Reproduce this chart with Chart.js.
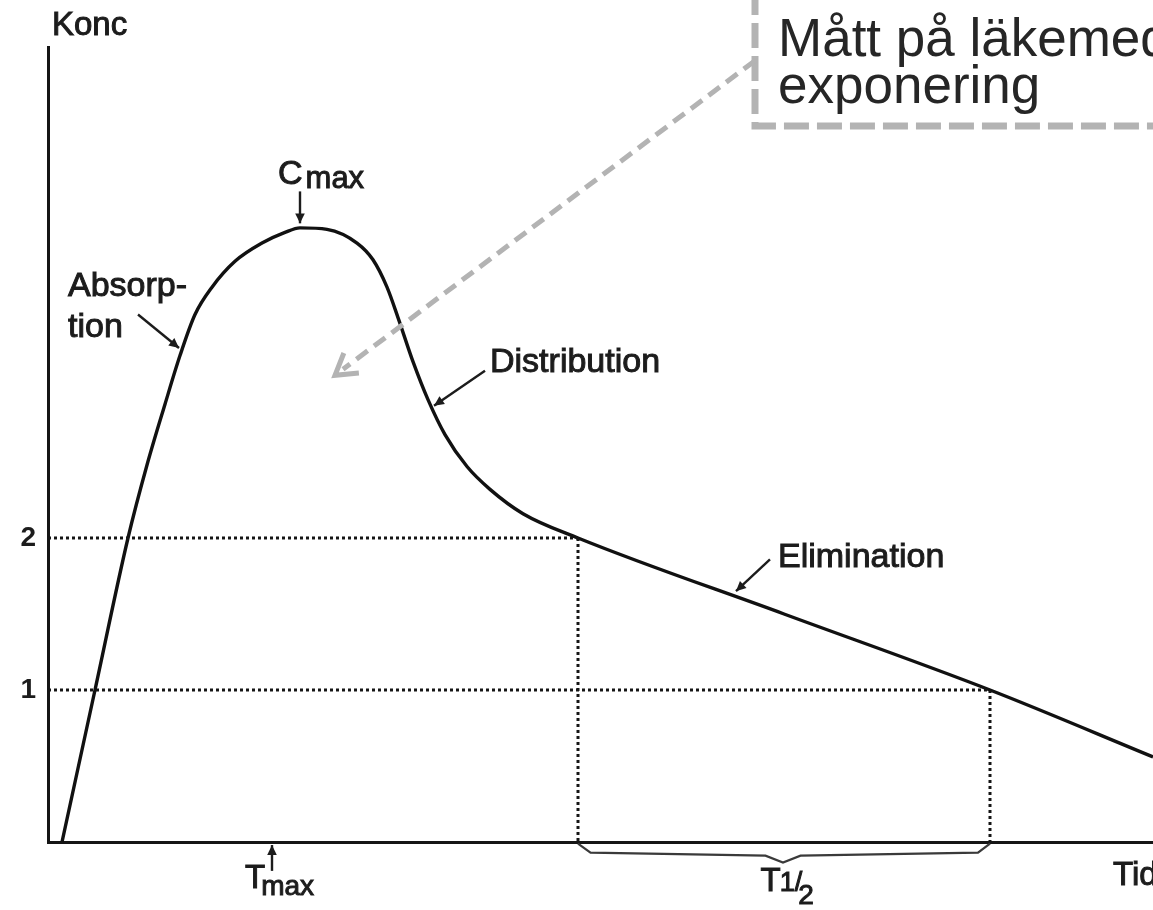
<!DOCTYPE html>
<html>
<head>
    <title>Konc / Tid</title>
    <meta charset="utf-8">
    <script src="https://cdn.jsdelivr.net/npm/chart.js@4.4.1/dist/chart.umd.min.js"></script>
    <style>
        body { margin: 0; background: #fff; }
        #wrap { width: 1153px; height: 910px; }
    </style>
</head>
<body>
<div id="wrap"><canvas id="pk_chart" width="1153" height="910"></canvas></div>
<script>
    // concentration curve (time units arbitrary)
    const curveX = [0.28, 0.94, 1.6, 1.98, 2.34, 2.64, 2.94, 3.28, 3.74, 4.28, 4.74, 5.04, 5.58, 6.18, 6.5, 6.78, 7.0, 7.3, 7.6, 7.94, 8.38, 8.84, 9.5, 10.6, 14.72, 18.84, 22.1];
    const curveY = [0, 1.0, 2.0, 2.48, 2.88, 3.2, 3.47, 3.65, 3.82, 3.94, 4.01, 4.04, 4.03, 3.94, 3.83, 3.65, 3.45, 3.16, 2.91, 2.68, 2.47, 2.32, 2.16, 2.0, 1.5, 1.0, 0.56];

    const yTicks = [1, 2];
    const xMax = 22.1;
    const yMax = 5.23;

    // half-life: concentration 2 at t=10.6, 1 at t=18.84
    const halfStart = 10.6;
    const halfEnd = 18.84;

    // brace under the T1/2 interval
    const braceX = [10.6, 10.85, 14.35, 14.7, 15.05, 18.6, 18.84];
    const braceY = [-0.01, -0.07, -0.09, -0.135, -0.09, -0.07, -0.01];

    function pts(xs, ys) { return xs.map((x, i) => ({x: x, y: ys[i]})); }

    const dotted = {borderColor: '#151515', borderWidth: 3, borderDash: [3, 3], pointRadius: 0, showLine: true, fill: false};

    const datasets = [
        Object.assign({data: [{x: 0, y: 2}, {x: halfStart, y: 2}]}, dotted),
        Object.assign({data: [{x: 0, y: 1}, {x: halfEnd, y: 1}]}, dotted),
        Object.assign({data: [{x: halfStart, y: 2}, {x: halfStart, y: 0}]}, dotted),
        Object.assign({data: [{x: halfEnd, y: 1}, {x: halfEnd, y: 0}]}, dotted),
        {
            data: pts(braceX, braceY),
            borderColor: '#3a3a3a', borderWidth: 2.2, pointRadius: 0, showLine: true, clip: false
        },
        {
            data: pts(curveX, curveY),
            borderColor: '#111', borderWidth: 3.4, pointRadius: 0, showLine: true,
            cubicInterpolationMode: 'monotone'
        }
    ];

    const font = '"Liberation Sans", Arial, Helvetica, sans-serif';

    function text(ctx, s, x, y, size, heavy) {
        ctx.font = size + 'px ' + font;
        ctx.fillText(s, x, y);
        if (heavy) ctx.strokeText(s, x, y);
        return ctx.measureText(s).width;
    }

    function arrow(ctx, x1, y1, x2, y2) {
        ctx.beginPath();
        ctx.moveTo(x1, y1);
        ctx.lineTo(x2, y2);
        ctx.stroke();
        const a = Math.atan2(y2 - y1, x2 - x1);
        const len = 11, w = 0.45;
        ctx.beginPath();
        ctx.moveTo(x2, y2);
        ctx.lineTo(x2 - len * Math.cos(a - w), y2 - len * Math.sin(a - w));
        ctx.lineTo(x2 - len * Math.cos(a + w), y2 - len * Math.sin(a + w));
        ctx.closePath();
        ctx.fill();
    }

    const labels = {
        id: 'labels',
        afterDraw(chart) {
            const ctx = chart.ctx;
            const sx = v => chart.scales.x.getPixelForValue(v);
            const sy = v => chart.scales.y.getPixelForValue(v);
            ctx.save();
            ctx.fillStyle = '#1c1c1c';
            ctx.strokeStyle = '#1c1c1c';
            ctx.lineWidth = 1;
            ctx.textBaseline = 'alphabetic';

            text(ctx, 'Konc', sx(0.08), sy(5.31), 33, true);

            // Cmax
            let w = text(ctx, 'C', sx(4.6), sy(4.33), 34, true);
            text(ctx, 'max', sx(4.6) + w + 3, sy(4.30), 31, true);
            ctx.lineWidth = 2.4;
            arrow(ctx, sx(5.04), sy(4.28), sx(5.04), sy(4.07));
            ctx.lineWidth = 1;

            text(ctx, 'Absorp-', sx(0.4), sy(3.59), 34, true);
            text(ctx, 'tion', sx(0.4), sy(3.32), 34, true);
            text(ctx, 'Distribution', sx(8.84), sy(3.09), 34, true);
            text(ctx, 'Elimination', sx(14.6), sy(1.81), 34, true);

            ctx.lineWidth = 2.4;
            arrow(ctx, sx(1.8), sy(3.47), sx(2.62), sy(3.25));
            arrow(ctx, sx(8.74), sy(3.1), sx(7.72), sy(2.87));
            arrow(ctx, sx(14.44), sy(1.86), sx(13.76), sy(1.65));
            arrow(ctx, sx(4.48), sy(-0.19), sx(4.48), sy(-0.02));
            ctx.lineWidth = 1;

            // x axis marks
            w = text(ctx, 'T', sx(3.94), sy(-0.30), 33, true);
            text(ctx, 'max', sx(3.94) + w - 4, sy(-0.35), 28, true);
            w = text(ctx, 'T', sx(14.25), sy(-0.32), 33, true);
            const w2 = text(ctx, '1/', sx(14.25) + w - 1, sy(-0.32), 27, true);
            text(ctx, '2', sx(14.25) + w + w2 - 5, sy(-0.41), 28, true);
            text(ctx, 'Tid', sx(21.3), sy(-0.28), 33, true);

            // gray callout box and dashed arrow
            ctx.strokeStyle = '#b3b3b3';
            ctx.lineWidth = 7;
            ctx.setLineDash([25, 8]);
            ctx.beginPath();
            ctx.moveTo(sx(14.14), -10);
            ctx.lineTo(sx(14.14), sy(4.71));
            ctx.lineTo(chart.width + 10, sy(4.71));
            ctx.stroke();

            const ax1 = sx(14.14), ay1 = sy(5.14), ax2 = sx(5.74), ay2 = sy(3.07);
            ctx.lineWidth = 5;
            ctx.setLineDash([14, 8]);
            ctx.beginPath();
            ctx.moveTo(ax1, ay1);
            ctx.lineTo(ax2 + 8, ay2 - 6);
            ctx.stroke();
            ctx.setLineDash([]);
            const a = Math.atan2(ay2 - ay1, ax2 - ax1);
            ctx.beginPath();
            ctx.moveTo(ax2 - 24 * Math.cos(a - 0.55), ay2 - 24 * Math.sin(a - 0.55));
            ctx.lineTo(ax2, ay2);
            ctx.lineTo(ax2 - 24 * Math.cos(a + 0.55), ay2 - 24 * Math.sin(a + 0.55));
            ctx.stroke();

            ctx.fillStyle = '#262626';
            text(ctx, 'Mått på läkemedels-', sx(14.6), sy(5.17), 53, false);
            text(ctx, 'exponering', sx(14.6), sy(4.86), 53, false);
            ctx.restore();
        }
    };

    new Chart('pk_chart', {
        type: 'scatter',
        data: {datasets: datasets},
        options: {
            responsive: false,
            animation: false,
            layout: {padding: {top: 47, right: 0, left: 0, bottom: 0}},
            plugins: {legend: {display: false}, tooltip: {enabled: false}},
            scales: {
                x: {
                    type: 'linear', min: 0, max: xMax,
                    grid: {display: false, drawTicks: false},
                    border: {display: true, color: '#151515', width: 3},
                    ticks: {display: false},
                    afterFit: s => { s.height = 68; }
                },
                y: {
                    type: 'linear', min: 0, max: yMax,
                    grid: {display: false, drawTicks: false},
                    border: {display: true, color: '#151515', width: 3},
                    afterBuildTicks: s => { s.ticks = yTicks.map(v => ({value: v})); },
                    ticks: {
                        color: '#1c1c1c', padding: 12,
                        font: {family: font, size: 28, weight: 'bold'},
                        callback: v => String(v)
                    },
                    afterFit: s => { s.width = 48; }
                }
            }
        },
        plugins: [labels]
    });
</script>
</body>
</html>
